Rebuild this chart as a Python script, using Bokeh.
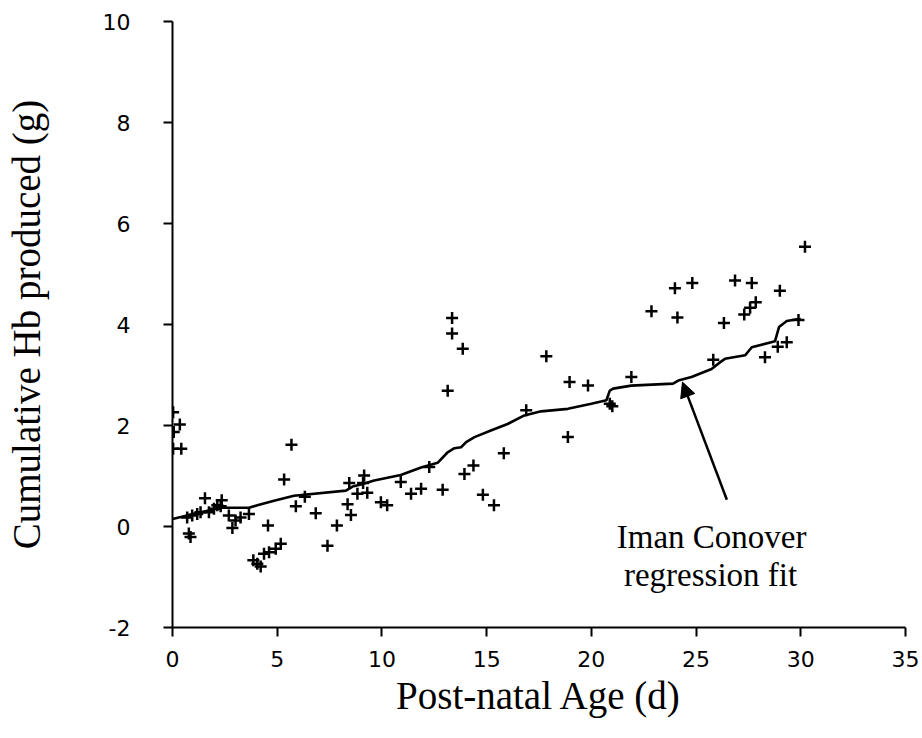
from bokeh.plotting import figure
from bokeh.models import Range1d, FixedTicker, Label, Arrow, NormalHead
from bokeh.embed import file_html
from bokeh.resources import INLINE

# Observed cumulative haemoglobin production per infant sample
age_days = [
    0.03, 0.35, 0.06, 0.03, 0.42,
    0.70, 0.94, 1.18, 1.34, 1.74, 1.98, 2.14, 2.30, 1.55, 2.35,
    0.78, 0.86, 2.69, 3.01, 3.25, 3.65, 2.86, 4.56,
    5.17, 4.93, 4.61, 4.37, 3.86, 4.05, 4.21,
    5.33, 5.68, 5.89, 6.32, 6.84, 7.40, 7.85, 8.36, 8.52, 8.44, 8.83,
    9.15, 9.10, 9.30, 9.95, 10.25, 10.90, 11.39, 11.87, 12.26, 12.90,
    13.14, 13.35, 13.35, 13.86, 13.94, 14.37, 14.82, 15.35, 15.82, 16.89,
    17.85, 18.88, 18.96, 19.84, 20.88, 21.00, 21.91, 22.87, 23.99, 24.11,
    24.82, 25.82, 26.33, 26.86, 27.30, 27.58, 27.85, 27.66, 28.29, 28.90,
    29.00, 29.33, 29.89, 30.20,
]
hb_grams = [
    2.26, 2.02, 1.87, 1.54, 1.54,
    0.18, 0.22, 0.25, 0.28, 0.28, 0.35, 0.42, 0.40, 0.56, 0.52,
    -0.14, -0.21, 0.22, 0.12, 0.18, 0.25, -0.03, 0.02,
    -0.34, -0.44, -0.51, -0.54, -0.67, -0.74, -0.79,
    0.93, 1.62, 0.40, 0.59, 0.26, -0.38, 0.02, 0.44, 0.23, 0.86, 0.65,
    1.01, 0.86, 0.67, 0.48, 0.42, 0.88, 0.65, 0.75, 1.18, 0.73,
    2.69, 4.13, 3.82, 3.52, 1.04, 1.21, 0.63, 0.42, 1.45, 2.30,
    3.37, 1.77, 2.86, 2.79, 2.43, 2.38, 2.96, 4.26, 4.72, 4.14,
    4.82, 3.30, 4.03, 4.87, 4.20, 4.33, 4.44, 4.82, 3.35, 3.56,
    4.67, 3.65, 4.09, 5.54,
]

# Iman Conover regression fit
fit_age = [
    0.0, 0.7, 2.3, 3.65, 4.05, 4.85, 5.8, 8.28, 8.6, 9.0, 9.63, 10.9,
    11.87, 12.66, 13.14, 13.46, 13.78, 14.02, 14.42, 15.2, 16.0, 16.8,
    17.6, 18.88, 20.0, 20.72, 20.88, 21.04, 21.9, 23.9, 24.15, 24.78,
    25.74, 26.14, 26.38, 27.34, 27.66, 28.77, 28.96, 29.33, 29.89, 30.0,
]
fit_hb = [
    0.15, 0.22, 0.37, 0.37, 0.42, 0.51, 0.61, 0.71, 0.79, 0.83, 0.91, 1.02,
    1.17, 1.26, 1.47, 1.55, 1.57, 1.67, 1.77, 1.90, 2.03, 2.20,
    2.28, 2.33, 2.43, 2.50, 2.69, 2.73, 2.79, 2.83, 2.89, 2.96,
    3.12, 3.25, 3.32, 3.39, 3.55, 3.67, 3.95, 4.07, 4.11, 4.11,
]

x_ticks = [0, 5, 10, 15, 20, 25, 30, 35]
y_ticks = [-2, 0, 2, 4, 6, 8, 10]

SERIF = "Liberation Serif"
SANS = "DejaVu Sans"

p = figure(
    width=922, height=738,
    x_range=Range1d(0, 35), y_range=Range1d(-2, 10),
    output_backend="svg", toolbar_location=None,
    min_border_left=172, min_border_right=17,
    min_border_top=21, min_border_bottom=111,
)
p.outline_line_color = None
p.grid.visible = False
p.background_fill_color = "white"
p.border_fill_color = "white"

for ax in (p.xaxis[0], p.yaxis[0]):
    ax.axis_line_width = 2
    ax.axis_line_color = "black"
    ax.major_tick_line_width = 2
    ax.major_tick_line_color = "black"
    ax.major_tick_out = 9
    ax.major_tick_in = 0
    ax.minor_tick_line_color = None
    ax.major_label_text_font = SANS
    ax.major_label_text_font_size = "22px"
    ax.major_label_text_color = "black"
    ax.axis_label_text_font = SERIF
    ax.axis_label_text_font_size = "39px"
    ax.axis_label_text_font_style = "normal"
    ax.axis_label_text_color = "black"

p.xaxis.ticker = FixedTicker(ticks=x_ticks)
p.yaxis.ticker = FixedTicker(ticks=y_ticks)
# plain hyphen for the negative tick
p.yaxis.major_label_overrides = {t: str(t) for t in y_ticks}
p.xaxis.major_label_standoff = 14
p.yaxis.major_label_standoff = 33

p.xaxis.axis_label = "Post-natal Age (d)"
p.xaxis.axis_label_standoff = 4
p.yaxis.axis_label = "Cumulative Hb produced (g)"
p.yaxis.axis_label_standoff = 52

p.line(fit_age, fit_hb, line_color="black", line_width=2.6)
p.scatter(age_days, hb_grams, marker="cross", size=12,
          line_color="black", line_width=2.5)

# Callout for the fitted curve
p.add_layout(Arrow(
    end=NormalHead(size=15, fill_color="black", line_color="black", line_width=1),
    x_start=26.47, y_start=0.53, x_end=24.35, y_end=2.86,
    line_color="black", line_width=2.5,
))
p.add_layout(Label(
    x=25.74, y=-0.21, text="Iman Conover",
    text_font=SERIF, text_font_size="33px", text_color="black",
    text_align="center", text_baseline="alphabetic",
))
p.add_layout(Label(
    x=25.69, y=-0.97, text="regression fit",
    text_font=SERIF, text_font_size="33px", text_color="black",
    text_align="center", text_baseline="alphabetic",
))

open("out.html", "w").write(file_html(p, INLINE))
